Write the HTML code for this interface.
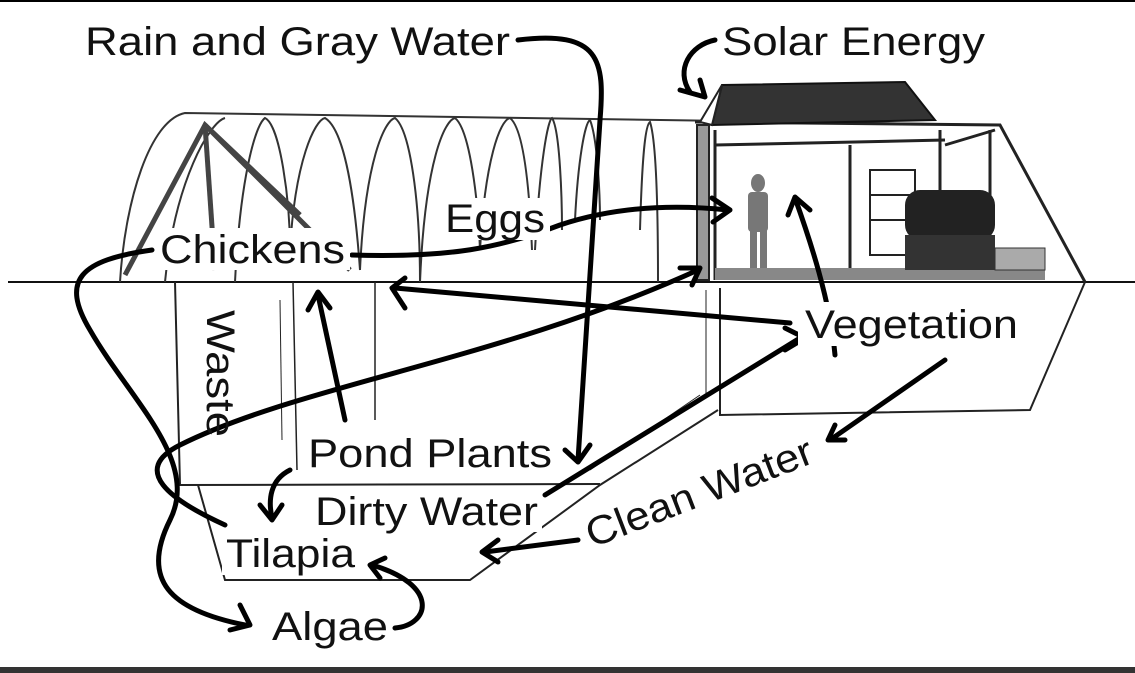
<!DOCTYPE html>
<html><head><meta charset="utf-8"><style>
html,body{margin:0;padding:0;background:#fff;}
svg{display:block;}
text{font-family:"Liberation Sans",Arial,sans-serif;fill:#111;}
</style></head><body>
<svg width="1135" height="673" viewBox="0 0 1135 673" xmlns="http://www.w3.org/2000/svg">
<rect x="0" y="0" width="1135" height="673" fill="#fff"/>
<rect x="0" y="0" width="1135" height="2" fill="#000"/>
<rect x="0" y="667" width="1135" height="6" fill="#333"/>

<line x1="8" y1="282" x2="1135" y2="282" stroke="#111" stroke-width="2"/>

<g fill="none" stroke="#333" stroke-width="2">
<path d="M120 282 C125 200 150 120 185 113 L1000 125"/>
<path d="M235 282 C240 180 255 125 265 118 C280 125 290 200 290 250"/>
<path d="M290 250 C295 160 315 120 325 118 C345 130 355 200 360 270"/>
<path d="M360 270 C365 160 385 120 395 118 C410 130 420 200 420 282"/>
<path d="M420 282 C425 160 445 120 455 118 C470 130 478 200 480 250"/>
<path d="M480 250 C485 160 500 120 510 118 C525 130 530 200 532 250"/>
<path d="M535 250 C540 160 548 120 552 118 C560 130 562 200 562 230"/>
<path d="M575 220 C578 160 585 122 590 120 C598 140 600 200 600 220"/>
<path d="M640 230 C642 160 645 125 650 122 C656 140 658 200 658 282"/>
<path d="M165 282 C175 180 210 122 225 118"/>
</g>
<g stroke="#444" stroke-width="5" fill="none">
<path d="M125 275 L205 125 L300 215"/>
<path d="M205 125 L215 270"/>
<path d="M205 125 L350 270"/>
</g>

<g stroke="#222" stroke-width="3" fill="none">
<path d="M695 122 L1000 125 L1085 282"/>
<rect x="697" y="125" width="12" height="155" stroke-width="2" fill="#999"/>
<line x1="715" y1="130" x2="715" y2="280"/>
<line x1="850" y1="145" x2="850" y2="280"/>
<line x1="715" y1="145" x2="945" y2="140"/>
<line x1="940" y1="130" x2="940" y2="280"/>
<line x1="990" y1="130" x2="990" y2="250"/>
<path d="M945 145 L995 130"/>
<rect x="870" y="170" width="45" height="85" stroke-width="2"/>
<line x1="870" y1="195" x2="915" y2="195" stroke-width="2"/>
<line x1="870" y1="220" x2="915" y2="220" stroke-width="2"/>
</g>
<rect x="715" y="268" width="330" height="12" fill="#888"/>
<rect x="905" y="190" width="90" height="50" fill="#222" rx="15"/>
<rect x="905" y="235" width="90" height="35" fill="#333"/>
<rect x="995" y="248" width="50" height="22" fill="#aaa" stroke="#333"/>
<g fill="#777">
<ellipse cx="758" cy="183" rx="7" ry="9"/>
<rect x="748" y="192" width="20" height="40" rx="4"/>
<rect x="750" y="230" width="7" height="38"/>
<rect x="760" y="230" width="7" height="38"/>
</g>
<path d="M722 85 L905 82 L935 120 L712 125 Z" fill="#333" stroke="#111" stroke-width="2"/>
<path d="M712 125 L722 85 L700 122 Z" fill="#fff" stroke="#222" stroke-width="2"/>

<g stroke="#222" stroke-width="2" fill="none">
<path d="M175 282 L180 485 L600 484"/>
<line x1="293" y1="282" x2="297" y2="470" stroke-width="1.5"/>
<line x1="375" y1="282" x2="375" y2="420" stroke-width="1.5"/>
<line x1="280" y1="300" x2="282" y2="440" stroke-width="1"/>
<path d="M198 485 L225 580 L470 580 L600 485 L718 410"/>
<path d="M590 470 L700 395" stroke-width="1"/>
<path d="M720 288 L720 415 L1030 410 L1085 282"/>
<line x1="706" y1="290" x2="706" y2="395" stroke-width="1"/>
</g>

<g fill="none" stroke="#000" stroke-width="5" stroke-linecap="round" stroke-linejoin="round">
<path d="M518 40 C600 30 605 60 600 120 L578 460"/>
<path d="M565 450 L578 462 L590 445"/>
<path d="M715 40 C690 45 675 70 690 92"/>
<path d="M680 90 L705 97 L700 80"/>
<path d="M352 255 C450 258 500 248 560 225 C620 205 680 205 728 210"/>
<path d="M712 198 L730 210 L713 222"/>
<path d="M790 323 L395 288"/>
<path d="M405 278 L392 288 L405 308"/>
<path d="M800 338 L545 495"/>
<path d="M785 350 L805 338 L785 328"/>
<path d="M835 355 C830 300 810 240 795 198"/>
<path d="M788 215 L795 197 L810 210"/>
<path d="M152 250 C80 260 60 280 90 330 C130 400 200 460 170 520 C140 580 170 610 245 625"/>
<path d="M240 605 L250 625 L230 630"/>
<path d="M345 420 L318 295"/>
<path d="M308 310 L318 292 L330 308"/>
<path d="M290 470 C270 480 268 500 272 518"/>
<path d="M260 505 L272 520 L282 505"/>
<path d="M945 360 L830 440"/>
<path d="M835 425 L828 440 L845 440"/>
<path d="M578 540 L485 552"/>
<path d="M498 540 L482 552 L498 562"/>
<path d="M395 628 C430 625 440 585 372 565"/>
<path d="M385 558 L370 565 L380 578"/>
<path d="M225 525 C170 500 130 470 180 445 C300 385 500 360 698 270"/>
<path d="M680 268 L700 268 L692 285"/>
</g>

<g font-size="40">
<rect x="80" y="20" width="435" height="46" fill="#fff"/>
<text x="85" y="55" textLength="425" lengthAdjust="spacingAndGlyphs">Rain and Gray Water</text>
<text x="722" y="55" textLength="263" lengthAdjust="spacingAndGlyphs">Solar Energy</text>
<rect x="440" y="198" width="110" height="42" fill="#fff"/>
<text x="445" y="232" textLength="100" lengthAdjust="spacingAndGlyphs">Eggs</text>
<rect x="155" y="228" width="195" height="42" fill="#fff"/>
<text x="160" y="263" textLength="185" lengthAdjust="spacingAndGlyphs">Chickens</text>
<rect x="798" y="302" width="225" height="44" fill="#fff"/>
<text x="805" y="338" textLength="213" lengthAdjust="spacingAndGlyphs">Vegetation</text>
<text transform="translate(207,310) rotate(90)" textLength="127" lengthAdjust="spacingAndGlyphs">Waste</text>
<rect x="303" y="432" width="252" height="42" fill="#fff"/>
<text x="308" y="467" textLength="244" lengthAdjust="spacingAndGlyphs">Pond Plants</text>
<rect x="310" y="490" width="232" height="42" fill="#fff"/>
<text x="315" y="525" textLength="223" lengthAdjust="spacingAndGlyphs">Dirty Water</text>
<rect x="222" y="533" width="137" height="42" fill="#fff"/>
<text x="226" y="567" textLength="129" lengthAdjust="spacingAndGlyphs">Tilapia</text>
<text x="272" y="640" textLength="116" lengthAdjust="spacingAndGlyphs">Algae</text>
<text transform="translate(592,548) rotate(-21)" textLength="240" lengthAdjust="spacingAndGlyphs">Clean Water</text>
</g>
</svg>
</body></html>
